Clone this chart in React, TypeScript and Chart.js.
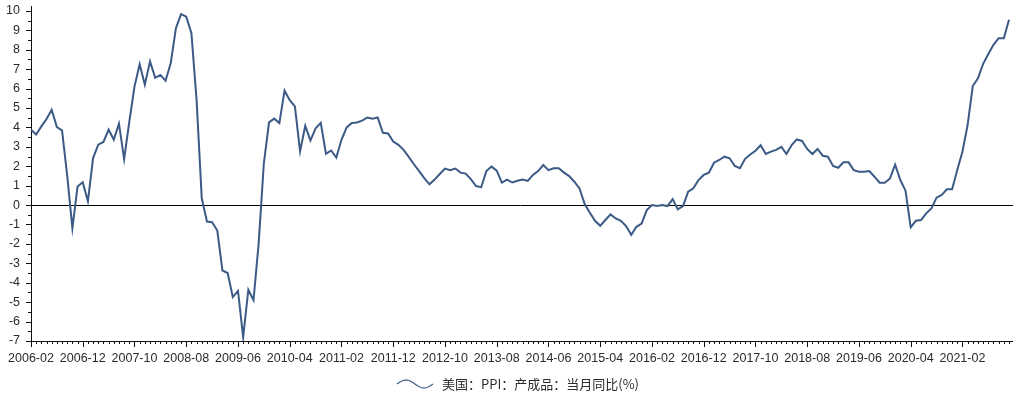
import React, { useEffect, useRef } from 'react';
import { Chart, registerables } from 'chart.js';

Chart.register(...registerables);

// ---------- data ----------
const START_YEAR = 2006;
const START_MONTH = 2;
const LABEL_EVERY = 10;
const SERIES_NAME = '美国：PPI：产成品：当月同比(%)';

const v2006 = [3.88, 3.63, 4.05, 4.43, 4.91, 4.02, 3.85, 1.5, -1.19, 0.96, 1.17];
const v2007 = [0.19, 2.42, 3.11, 3.25, 3.88, 3.37, 4.19, 2.37, 4.3, 6.1, 7.25, 6.2];
const v2008 = [7.4, 6.55, 6.7, 6.4, 7.3, 9.1, 9.83, 9.7, 8.85, 5.4, 0.35, -0.85];
const v2009 = [-0.88, -1.31, -3.37, -3.5, -4.74, -4.42, -6.8, -4.36, -4.9, -1.96, 2.15, 4.26];
const v2010 = [4.45, 4.22, 5.89, 5.4, 5.08, 2.76, 4.08, 3.32, 3.95, 4.23, 2.64, 2.81];
const v2011 = [2.45, 3.36, 4.0, 4.23, 4.25, 4.35, 4.51, 4.44, 4.51, 3.72, 3.69, 3.27];
const v2012 = [3.1, 2.84, 2.48, 2.1, 1.75, 1.39, 1.07, 1.31, 1.6, 1.88, 1.8, 1.88];
const v2013 = [1.67, 1.62, 1.34, 0.98, 0.92, 1.75, 1.98, 1.77, 1.16, 1.31, 1.16, 1.25];
const v2014 = [1.32, 1.24, 1.55, 1.75, 2.06, 1.8, 1.89, 1.89, 1.67, 1.49, 1.2, 0.86];
const v2015 = [0.05, -0.4, -0.81, -1.07, -0.77, -0.48, -0.69, -0.81, -1.08, -1.53, -1.12, -0.95];
const v2016 = [-0.26, 0.0, -0.05, 0.0, -0.05, 0.31, -0.22, -0.05, 0.69, 0.86, 1.29, 1.55];
const v2017 = [1.67, 2.18, 2.32, 2.49, 2.41, 2.02, 1.9, 2.38, 2.6, 2.8, 3.08, 2.63];
const v2018 = [2.75, 2.84, 3.0, 2.63, 3.09, 3.38, 3.3, 2.89, 2.63, 2.89, 2.54, 2.49];
const v2019 = [2.01, 1.92, 2.2, 2.2, 1.8, 1.72, 1.72, 1.75, 1.46, 1.15, 1.15, 1.37];
const v2020 = [2.08, 1.29, 0.74, -1.15, -0.81, -0.77, -0.43, -0.17, 0.38, 0.52, 0.81, 0.81];
const v2021 = [1.8, 2.75, 4.12, 6.13, 6.53, 7.27, 7.78, 8.25, 8.59, 8.59, 9.54];

const ppiValues: number[] = [
  ...v2006, ...v2007, ...v2008, ...v2009, ...v2010, ...v2011, ...v2012, ...v2013,
  ...v2014, ...v2015, ...v2016, ...v2017, ...v2018, ...v2019, ...v2020, ...v2021,
];

const monthLabels: string[] = ppiValues.map((_, i) => {
  const m = START_MONTH - 1 + i;
  const y = START_YEAR + Math.floor(m / 12);
  const mm = (m % 12) + 1;
  return `${y}-${String(mm).padStart(2, '0')}`;
});

const Y_MIN = -7;
const Y_MAX = 10.25;
const Y_TICK_MIN = -7;
const Y_TICK_MAX = 10;
const Y_MINOR_STEP = 0.5;

// ---------- styles ----------
const LINE_COLOR = '#3b5a86';
const TEXT_COLOR = '#2b2b2b';
const AXIS_COLOR = '#111111';
const TICK_FONT = '"Liberation Sans", Arial, sans-serif';
const LEGEND_FONT = '"Noto Sans CJK SC", sans-serif';
const AXIS_EXTENSION = 4;

const tickPlugin = {
  id: 'axisTicksAndLegend',
  afterDraw(chart: any) {
    const { ctx, chartArea, scales } = chart;
    const x = scales.x;
    const y = scales.y;
    ctx.save();
    ctx.strokeStyle = AXIS_COLOR;
    ctx.lineWidth = 1;
    ctx.beginPath();
    // extend the bottom axis line a little past the last month
    const by = Math.round(chartArea.bottom) + 0.5;
    ctx.moveTo(chartArea.right, by);
    ctx.lineTo(chartArea.right + AXIS_EXTENSION, by);
    for (let i = 0; i < monthLabels.length; i++) {
      const px = Math.round(x.getPixelForValue(i)) + 0.5;
      const len = i % LABEL_EVERY === 0 ? 6 : 3;
      ctx.moveTo(px, chartArea.bottom);
      ctx.lineTo(px, chartArea.bottom + len);
    }
    for (let v = Y_TICK_MIN; v <= Y_TICK_MAX + 1e-9; v += Y_MINOR_STEP) {
      const py = Math.round(y.getPixelForValue(v)) + 0.5;
      const major = Math.abs(v - Math.round(v)) < 1e-9;
      const len = major ? 5 : 3;
      ctx.moveTo(chartArea.left, py);
      ctx.lineTo(chartArea.left - len, py);
    }
    ctx.stroke();
    // extend zero line as well
    const zy = Math.round(y.getPixelForValue(0)) + 0.5;
    ctx.strokeStyle = '#000000';
    ctx.beginPath();
    ctx.moveTo(chartArea.right, zy);
    ctx.lineTo(chartArea.right + AXIS_EXTENSION, zy);
    ctx.stroke();

    // legend
    ctx.font = `13px ${LEGEND_FONT}`;
    const textW = ctx.measureText(SERIES_NAME).width;
    const iconW = 36;
    const gap = 9;
    const total = iconW + gap + textW;
    const cx = (chartArea.left + chartArea.right + AXIS_EXTENSION) / 2 - 4;
    const startX = cx - total / 2;
    const ly = 384;
    ctx.strokeStyle = LINE_COLOR;
    ctx.lineWidth = 1.2;
    ctx.beginPath();
    for (let t = 0; t <= iconW; t++) {
      const yy = ly - 4 * Math.sin((t / iconW) * Math.PI * 2);
      if (t === 0) ctx.moveTo(startX + t, yy);
      else ctx.lineTo(startX + t, yy);
    }
    ctx.stroke();
    ctx.fillStyle = TEXT_COLOR;
    ctx.textBaseline = 'middle';
    ctx.textAlign = 'left';
    ctx.fillText(SERIES_NAME, startX + iconW + gap, ly);
    ctx.restore();
  },
};

export default function App() {
  const canvasRef = useRef<HTMLCanvasElement | null>(null);

  useEffect(() => {
    const canvas = canvasRef.current;
    if (!canvas) return;
    const chart = new Chart(canvas, {
      type: 'line',
      data: {
        labels: monthLabels,
        datasets: [
          {
            label: SERIES_NAME,
            data: ppiValues,
            borderColor: LINE_COLOR,
            backgroundColor: LINE_COLOR,
            borderWidth: 2,
            pointRadius: 0,
            pointHoverRadius: 0,
            tension: 0,
            fill: false,
          },
        ],
      },
      options: {
        responsive: false,
        animation: false,
        layout: { padding: { left: 0, right: 12, top: 6, bottom: 26 } },
        plugins: {
          legend: { display: false },
          tooltip: { enabled: false },
        },
        scales: {
          x: {
            type: 'category',
            offset: false,
            grid: { display: false, drawTicks: false },
            border: { display: true, color: AXIS_COLOR, width: 1 },
            ticks: {
              autoSkip: false,
              maxRotation: 0,
              minRotation: 0,
              padding: 10,
              color: TEXT_COLOR,
              font: { family: TICK_FONT, size: 12.5 },
              callback: (_v: any, i: number) => (i % LABEL_EVERY === 0 ? monthLabels[i] : null),
            },
            afterFit: (scale: any) => {
              scale.height = 30;
              scale.paddingLeft = 0;
              scale.paddingRight = 0;
            },
          },
          y: {
            type: 'linear',
            min: Y_MIN,
            max: Y_MAX,
            grid: {
              drawTicks: false,
              color: (c: any) => (c.tick && c.tick.value === 0 ? '#000000' : 'rgba(0,0,0,0)'),
              lineWidth: 1,
            },
            border: { display: true, color: AXIS_COLOR, width: 1 },
            ticks: {
              padding: 11,
              color: TEXT_COLOR,
              font: { family: TICK_FONT, size: 12.5 },
              callback: (v: any) => String(v),
            },
            afterBuildTicks: (scale: any) => {
              const t: { value: number }[] = [];
              for (let v = Y_TICK_MIN; v <= Y_TICK_MAX; v++) t.push({ value: v });
              scale.ticks = t;
            },
            afterFit: (scale: any) => {
              scale.width = 31;
              scale.paddingTop = 0;
              scale.paddingBottom = 0;
            },
          },
        },
      },
      plugins: [tickPlugin],
    });
    return () => chart.destroy();
  }, []);

  return (
    <div style={{ position: 'fixed', left: 0, top: 0, width: 1021, height: 397, background: '#ffffff' }}>
      <canvas ref={canvasRef} width={1021} height={397} style={{ display: 'block', width: 1021, height: 397 }} />
    </div>
  );
}
